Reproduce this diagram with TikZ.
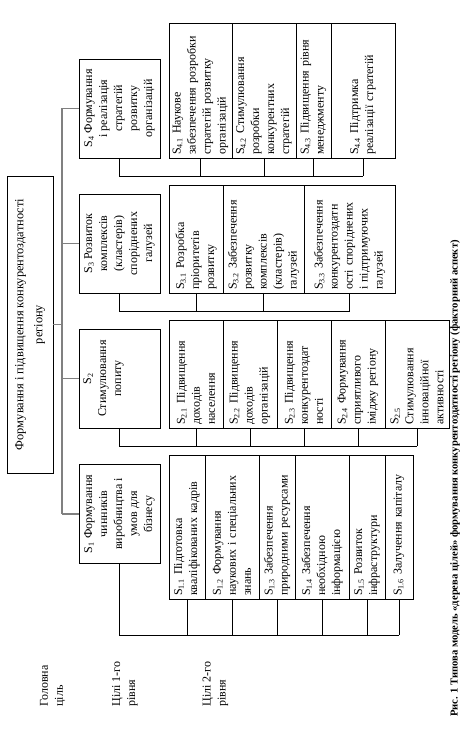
\documentclass[tikz,border=0pt]{standalone}
\usepackage{fontspec}
\setmainfont{Liberation Serif}
\usetikzlibrary{positioning}

\begin{document}
\begin{tikzpicture}[x=1pt,y=1pt,font=\fontsize{12}{15}\selectfont,
  box/.style={draw,line width=0.6pt,inner sep=3pt,outer sep=0pt},
  goal1/.style={box,align=center,minimum width=99,minimum height=81},
  goal2/.style 2 args={box,align=left,anchor=north,text width=#1,minimum height=#2},
  trunk/.style={draw=black!50,line width=1.2pt},
  bus/.style={draw,line width=0.6pt}]
\useasboundingbox (0,0) rectangle (476,741);
\begin{scope}[rotate=90,transform shape]
% main goal
\node[box,align=center,minimum width=297,minimum height=46,
  font=\fontsize{12.4}{19}\selectfont] (main) at (416.5,-30)
  {Формування і підвищення конкурентоздатності\\регіону};
% goals of the first level
\node[goal1] (S1) at (227,-119.5) {S\textsubscript{1} Формування\\чинників\\виробництва і\\умов для\\бізнесу};
\node[goal1] (S2) at (362.5,-119.5) {S\textsubscript{2}\\Стимулювання\\попиту\\\strut\\\strut};
\node[goal1] (S3) at (497.5,-119.5) {S\textsubscript{3} Розвиток\\комплексів\\(кластерів)\\споріднених\\галузей};
\node[goal1] (S4) at (632.5,-119.5) {S\textsubscript{4} Формування\\і реалізація\\стратегій\\розвитку\\організацій};
% goals of the second level
\foreach \H/\T [count=\Y,remember=\Y as \LastY] in
{36/{S\textsubscript{1.1} Підготовка\\кваліфікованих кадрів},
 54/{S\textsubscript{1.2} Формування\\наукових і спеціальних\\знань},
 36/{S\textsubscript{1.3} Забезпечення\\природними ресурсами},
 54/{S\textsubscript{1.4} Забезпечення\\необхідною\\інформацією},
 36/{S\textsubscript{1.5} Розвиток\\інфраструктури},
 28/{S\textsubscript{1.6} Залучення капіталу}}
  {\ifnum\Y=1
  \node[goal2={138}{\H},anchor=north west] (S1\Y) at (142,-169) {\T};
  \else
  \node[goal2={138}{\H}] (S1\Y) at (S1\LastY.south) {\T};
  \fi}
\foreach \H/\T [count=\Y,remember=\Y as \LastY] in
{54/{S\textsubscript{2.1} Підвищення\\доходів\\населення},
 54/{S\textsubscript{2.2} Підвищення\\доходів\\організацій},
 54/{S\textsubscript{2.3} Підвищення\\конкурентоздат\\ності},
 54/{S\textsubscript{2.4} Формування\\сприятливого\\іміджу регіону},
 64/{S\textsubscript{2.5}\\Стимулювання\\інноваційної\\активності}}
  {\ifnum\Y=1
  \node[goal2={102}{\H},anchor=north west] (S2\Y) at (313,-169) {\T};
  \else
  \node[goal2={102}{\H}] (S2\Y) at (S2\LastY.south) {\T};
  \fi}
\foreach \H/\T [count=\Y,remember=\Y as \LastY] in
{54/{S\textsubscript{3.1} Розробка\\пріоритетів\\розвитку},
 81/{S\textsubscript{3.2} Забезпечення\\розвитку\\комплексів\\(кластерів)\\галузей},
 91/{S\textsubscript{3.3} Забезпечення\\конкурентоздатн\\ості споріднених\\і підтримуючих\\галузей}}
  {\ifnum\Y=1
  \node[goal2={102}{\H},anchor=north west] (S3\Y) at (448,-169) {\T};
  \else
  \node[goal2={102}{\H}] (S3\Y) at (S3\LastY.south) {\T};
  \fi}
\foreach \H/\T [count=\Y,remember=\Y as \LastY] in
{63/{S\textsubscript{4.1} Наукове\\забезпечення розробки\\стратегій розвитку\\організацій},
 64/{S\textsubscript{4.2} Стимулювання\\розробки\\конкурентних\\стратегій},
 35/{S\textsubscript{4.3} Підвищення рівня\\менеджменту},
 64/{S\textsubscript{4.4} Підтримка\\реалізації стратегій}}
  {\ifnum\Y=1
  \node[goal2={129}{\H},anchor=north west] (S4\Y) at (583,-169) {\T};
  \else
  \node[goal2={129}{\H}] (S4\Y) at (S4\LastY.south) {\T};
  \fi}
% trunk from the main goal
\draw[trunk] (main.south) -- ++(0,-9) coordinate (hub);
\draw[trunk] (S1.north |- hub) -- (S4.north |- hub);
\foreach \k in {1,...,4}
  \draw[trunk] (S\k.north) -- (S\k.north |- hub);
% buses to the second level
\foreach \k/\n/\d in {1/6/72,2/5/18,3/3/18,4/4/18}
  {\draw[bus] (S\k.west) -- ++(-\d,0) coordinate (b\k) -- (b\k |- S\k\n.west);
  \foreach \j in {1,...,\n}
    \draw[bus] (S\k\j.west) -- (S\k\j.west -| b\k);}
% row labels and caption
\node[align=left,anchor=west] (lab0) at (31,-52.5) {Головна\\ціль};
\node[align=left,anchor=west] (lab1) at (31,-125) {Цілі 1-го\\рівня};
\node[align=left,anchor=west] (lab2) at (31,-215.5) {Цілі 2-го\\рівня};
\node[anchor=west,inner sep=0pt,font=\fontsize{10.6}{12}\selectfont\bfseries] (cap) at (24,-455)
  {Рис. 1 Типова модель «дерева цілей» формування конкурентоздатності регіону (факторний аспект)};
\end{scope}
\end{tikzpicture}
\end{document}
